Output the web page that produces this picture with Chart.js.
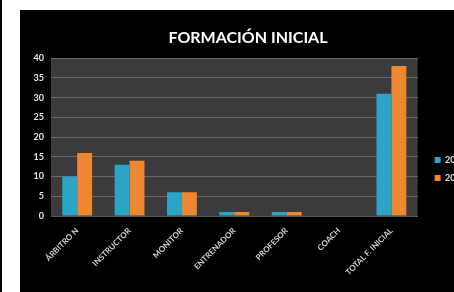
<!DOCTYPE html>
<html>
<head>
<meta charset="utf-8">
<script src="https://cdn.jsdelivr.net/npm/chart.js@4/dist/chart.umd.min.js"></script>
<style>
  html, body { margin: 0; padding: 0; background: #fff; width: 454px; height: 292px; overflow: hidden; }
  #linea { position: absolute; left: 0; top: 0; width: 2px; height: 292px; background: #000; }
  #panel { position: absolute; left: 20px; top: 10px; width: 434px; height: 282px; background: #000; overflow: hidden; }
  #grafico { position: absolute; left: 0; top: 0; }
</style>
</head>
<body>
<div id="linea"></div>
<div id="panel">
  <canvas id="grafico" width="460" height="282"></canvas>
</div>
<script>
// Datos
const categorias = ['ÁRBITRO N', 'INSTRUCTOR', 'MONITOR', 'ENTRENADOR', 'PROFESOR', 'COACH', 'TOTAL F. INICIAL'];
const serie2010 = [10, 13, 6, 1, 1, 0, 31];
const serie2011 = [16, 14, 6, 1, 1, 0, 38];
const etiquetasSeries = ['2010', '2011'];
const ticksY = [0, 5, 10, 15, 20, 25, 30, 35, 40];

// fondo gris del area de trazado
const fondoPlot = {
  id: 'fondoPlot',
  beforeDraw(chart) {
    const { ctx, chartArea: a } = chart;
    ctx.save();
    ctx.fillStyle = '#3b3b3d';
    ctx.fillRect(a.left, a.top, a.right - a.left, a.bottom - a.top);
    ctx.restore();
  }
};

const ctx = document.getElementById('grafico').getContext('2d');
new Chart(ctx, {
  type: 'bar',
  data: {
    labels: categorias,
    datasets: [
      { label: etiquetasSeries[0], data: serie2010, backgroundColor: '#2ba4c8' },
      { label: etiquetasSeries[1], data: serie2011, backgroundColor: '#ee8830' }
    ]
  },
  options: {
    responsive: false,
    animation: false,
    categoryPercentage: 0.57,
    barPercentage: 1,
    layout: { padding: { left: 0, right: 4, top: 0, bottom: 0 } },
    plugins: {
      title: {
        display: true,
        text: 'FORMACIÓN INICIAL',
        color: '#ffffff',
        font: { family: 'Lato', size: 16, weight: 'bold' },
        padding: { top: 18, bottom: 11 }
      },
      legend: {
        position: 'right',
        // titulo vacio solo para bajar los elementos
        title: { display: true, text: ' ', font: { size: 10 }, padding: { top: 24, bottom: 0 } },
        labels: {
          color: '#e0e0e0',
          boxWidth: 6,
          boxHeight: 6,
          padding: 9,
          font: { family: 'Lato', size: 9, weight: 'bold' }
        }
      },
      tooltip: { enabled: false }
    },
    scales: {
      x: {
        grid: { display: false },
        border: { color: '#555' },
        ticks: {
          color: '#d0d0d0',
          font: { family: 'Lato', size: 8, weight: 'bold' },
          minRotation: 45,
          maxRotation: 45,
          padding: 2
        },
        afterFit: s => { s.height = 76; }
      },
      y: {
        min: 0,
        max: 40,
        afterBuildTicks: s => { s.ticks = ticksY.map(v => ({ value: v })); },
        grid: { color: '#68686a', drawTicks: false },
        border: { display: false },
        ticks: {
          color: '#e6e6e6',
          font: { family: 'Lato', size: 9, weight: 'bold' },
          padding: 7
        },
        afterFit: s => { s.width = 31; }
      },
      espacio: {
        position: 'right',
        display: true,
        grid: { display: false },
        border: { display: false },
        ticks: { display: false },
        afterFit: s => { s.width = 8; }
      }
    }
  },
  plugins: [fondoPlot]
});
</script>
</body>
</html>
